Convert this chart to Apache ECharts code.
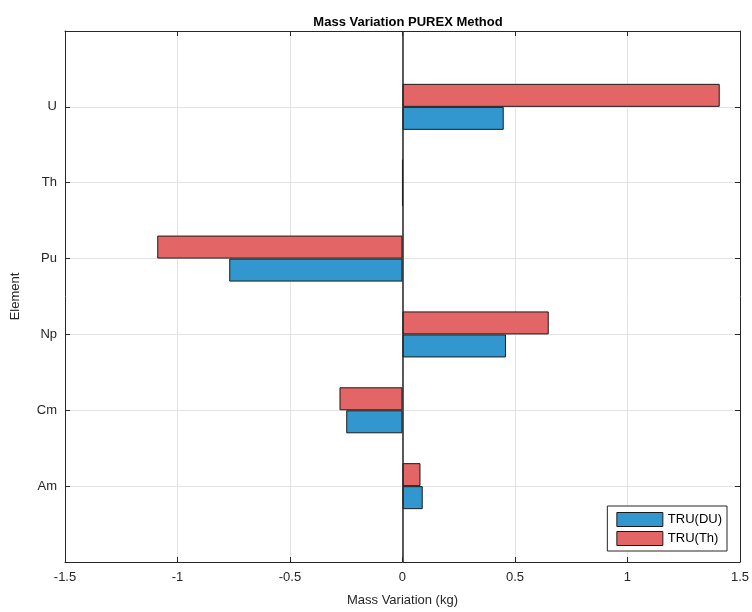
<!DOCTYPE html>
<html><head><meta charset="utf-8">
<script src="https://cdn.jsdelivr.net/npm/echarts@6/dist/echarts.min.js"></script>
<style>html,body{margin:0;padding:0;background:#fff}#c{width:752px;height:612px}</style>
</head><body><div id="c"></div>
<script>
const categories = ['', 'Am', 'Cm', 'Np', 'Pu', 'Th', 'U', ''];
const truDU = [null, 0.09, -0.25, 0.46, -0.77, 0, 0.45, null];
const truTh = [null, 0.08, -0.28, 0.65, -1.09, 0, 1.41, null];
const xTicks = [-1.5, -1, -0.5, 0, 0.5, 1, 1.5];

const font = 'Liberation Sans, Arial, sans-serif';
const axisCol = '#262626';
const tick = {show: true, inside: true, length: 5, lineStyle: {color: axisCol}};
const line = {show: true, onZero: false, lineStyle: {color: axisCol, width: 1}};
const chart = echarts.init(document.getElementById('c'), null, {renderer: 'canvas'});
chart.setOption({
  animation: false,
  backgroundColor: '#fff',
  title: {text: 'Mass Variation PUREX Method', left: 403, top: 11, textAlign: 'center',
    textStyle: {fontFamily: font, fontSize: 13, fontWeight: 'bold', color: '#000'}},
  grid: {left: 65, right: 10, top: 31, bottom: 48},
  legend: {
    orient: 'vertical', right: 25, bottom: 61, itemWidth: 46, itemHeight: 14, itemGap: 4,
    padding: [6, 5, 5, 9], backgroundColor: '#fff', borderColor: '#262626', borderWidth: 1,
    icon: 'rect', data: ['TRU(DU)', 'TRU(Th)'],
    itemStyle: {borderWidth: 1, borderColor: '#1a1a1a'},
    textStyle: {fontFamily: font, fontSize: 13, color: '#000'}
  },
  xAxis: [{
    type: 'value', min: -1.5, max: 1.5, interval: 0.5,
    name: 'Mass Variation (kg)', nameLocation: 'middle', nameGap: 32,
    nameTextStyle: {fontFamily: font, fontSize: 13, color: axisCol},
    axisLine: line, axisTick: tick,
    axisLabel: {fontFamily: font, fontSize: 13, color: axisCol, margin: 9,
      formatter: v => xTicks.includes(v) ? String(v) : ''},
    splitLine: {show: true, lineStyle: {color: '#e3e3e3', width: 1}}
  }, {
    type: 'value', position: 'top', min: -1.5, max: 1.5, interval: 0.5,
    axisLine: line, axisLabel: {show: false}, splitLine: {show: false}, axisTick: tick
  }],
  yAxis: [{
    type: 'category', data: categories, boundaryGap: false,
    name: 'Element', nameLocation: 'middle', nameGap: 43,
    nameTextStyle: {fontFamily: font, fontSize: 13, color: axisCol},
    axisLine: line, axisTick: tick,
    axisLabel: {fontFamily: font, fontSize: 13, color: axisCol, margin: 8},
    splitLine: {show: true, lineStyle: {color: '#e3e3e3', width: 1}}
  }, {
    type: 'category', data: categories, boundaryGap: false, position: 'right',
    axisLine: line, axisLabel: {show: false}, splitLine: {show: false}, axisTick: tick
  }],
  series: [{
    name: 'TRU(Th)', type: 'bar', data: truTh, barWidth: 23, barGap: '0%',
    itemStyle: {color: '#e46565', borderColor: '#1a1a1a', borderWidth: 1},
    markLine: {silent: true, symbol: 'none', label: {show: false},
      lineStyle: {color: '#262626', type: 'solid', width: 1.5}, data: [{xAxis: 0}]}
  }, {
    name: 'TRU(DU)', type: 'bar', data: truDU, barWidth: 23, barGap: '0%',
    itemStyle: {color: '#3397cf', borderColor: '#1a1a1a', borderWidth: 1}
  }]
});
</script></body></html>
